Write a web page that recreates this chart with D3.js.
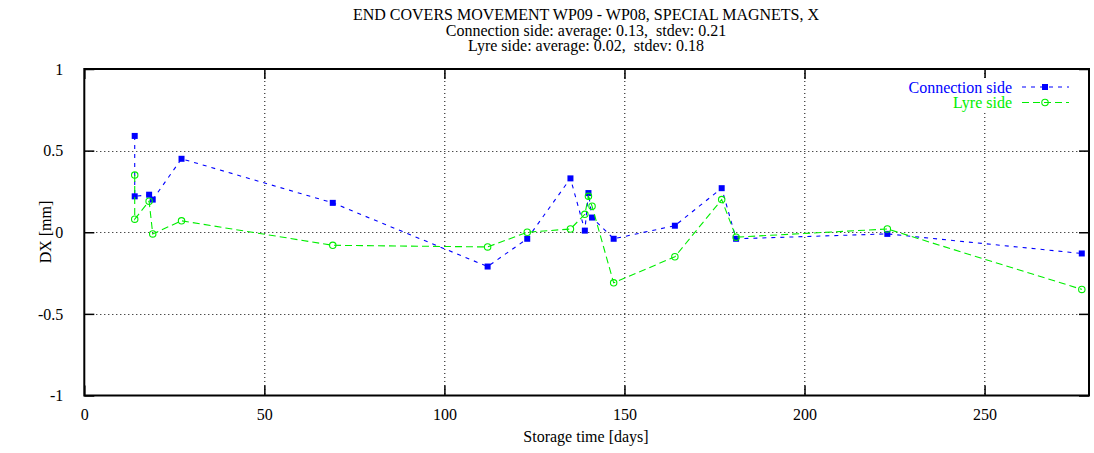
<!DOCTYPE html>
<html>
<head>
<meta charset="utf-8">
<script src="https://cdn.jsdelivr.net/npm/d3@7"></script>
<style>
  body { margin: 0; background: #fff; }
  svg text { font-family: "Liberation Serif", "DejaVu Serif", serif; font-size: 16px; fill: #000; white-space: pre; }
</style>
</head>
<body>
<div id="app"></div>
<script>
// storage time in days, shared by both series
const days = [14, 14, 18, 19, 27, 69, 112, 123, 135, 139, 140, 141, 147, 164, 177, 181, 223, 277];
const connectionDX = [0.59, 0.22, 0.23, 0.20, 0.45, 0.18, -0.21, -0.04, 0.33, 0.01, 0.24, 0.09, -0.04, 0.04, 0.27, -0.04, -0.01, -0.13];
const lyreDX = [0.35, 0.08, 0.19, -0.01, 0.07, -0.08, -0.09, 0.00, 0.02, 0.11, 0.22, 0.16, -0.31, -0.15, 0.20, -0.03, 0.02, -0.35];
const xTicks = [0, 50, 100, 150, 200, 250];
const yTicks = [-1, -0.5, 0, 0.5, 1];
const titleLines = [
  "END COVERS MOVEMENT WP09 - WP08, SPECIAL MAGNETS, X",
  "Connection side: average: 0.13,  stdev: 0.21",
  "Lyre side: average: 0.02,  stdev: 0.18"
];

const dims = { width: 1094, height: 453, margin: { top: 69, right: 5, bottom: 57.5, left: 84.3 } };
dims.bw = dims.width - dims.margin.left - dims.margin.right;
dims.bh = dims.height - dims.margin.top - dims.margin.bottom;

const svg = d3.select("#app").append("svg")
  .attr("width", dims.width).attr("height", dims.height);

const bounds = svg.append("g")
  .attr("transform", `translate(${dims.margin.left},${dims.margin.top})`);

const x = d3.scaleLinear().domain([0, 279]).range([0, dims.bw]);
const y = d3.scaleLinear().domain([-1, 1]).range([dims.bh, 0]);

// grid
const grid = bounds.append("g").attr("stroke", "#000").attr("stroke-width", 1).attr("stroke-dasharray", "1,3");
grid.selectAll(".gx").data(xTicks.filter(d => d > 0)).join("line")
  .attr("x1", d => Math.round(x(d)) + 0.5).attr("x2", d => Math.round(x(d)) + 0.5)
  .attr("y1", 0).attr("y2", dims.bh);
grid.selectAll(".gy").data(yTicks.filter(d => d > -1 && d < 1)).join("line")
  .attr("y1", d => Math.round(y(d)) + 0.5).attr("y2", d => Math.round(y(d)) + 0.5)
  .attr("x1", 0).attr("x2", dims.bw);

// plain hyphen for negatives, like gnuplot
const fmt = d => String(d);

// axes with inward ticks, mirrored on top/right
const tl = 10;
const xAxis = bounds.append("g").attr("transform", `translate(0,${dims.bh})`)
  .call(d3.axisBottom(x).tickValues(xTicks).tickSize(-tl).tickPadding(tl + 7).tickFormat(fmt));
const xAxisTop = bounds.append("g")
  .call(d3.axisTop(x).tickValues(xTicks).tickSize(-tl).tickFormat(""));
const yAxis = bounds.append("g")
  .call(d3.axisLeft(y).tickValues(yTicks).tickSize(-tl).tickPadding(tl + 11).tickFormat(fmt));
const yAxisRight = bounds.append("g").attr("transform", `translate(${dims.bw},0)`)
  .call(d3.axisRight(y).tickValues(yTicks).tickSize(-tl).tickFormat(""));

[xAxis, xAxisTop, yAxis, yAxisRight].forEach(g => {
  g.select(".domain").remove();
  g.selectAll(".tick line").attr("stroke", "#000").attr("stroke-width", 1.5);
  g.selectAll("text").attr("font-family", null).attr("font-size", null);
});
xAxis.selectAll(".tick text").attr("dy", "0.45em");

// series
const series = [
  { name: "Connection side", vals: connectionDX, color: "#0000ff", dash: "4,5", marker: "square" },
  { name: "Lyre side", vals: lyreDX, color: "#00ee00", dash: "7,4", marker: "circle" }
];

const line = d3.line().x(d => x(d[0])).y(d => y(d[1]));

function drawMarker(g, s, cx, cy) {
  if (s.marker === "square") {
    g.append("rect").attr("x", cx - 3).attr("y", cy - 3).attr("width", 6).attr("height", 6)
      .attr("fill", s.color);
  } else {
    g.append("circle").attr("cx", cx).attr("cy", cy).attr("r", 3.2)
      .attr("fill", "none").attr("stroke", s.color).attr("stroke-width", 1.1);
  }
}

series.forEach(s => {
  const pts = days.map((d, i) => [d, s.vals[i]]);
  bounds.append("path").datum(pts)
    .attr("d", line).attr("fill", "none")
    .attr("stroke", s.color).attr("stroke-width", 1.1).attr("stroke-dasharray", s.dash);
  const mg = bounds.append("g");
  pts.forEach(p => drawMarker(mg, s, x(p[0]), y(p[1])));
});

// legend (opaque key, hides the grid behind it)
const legend = svg.append("g");
legend.append("rect").attr("x", 904).attr("y", 78).attr("width", 172).attr("height", 34).attr("fill", "#fff");
series.forEach((s, i) => {
  const ly = 87 + i * 15.5;
  legend.append("text").attr("x", 1012).attr("y", ly).attr("dy", "0.35em")
    .attr("text-anchor", "end").style("fill", s.color).text(s.name);
  legend.append("line").attr("x1", 1022).attr("x2", 1069).attr("y1", ly).attr("y2", ly)
    .attr("stroke", s.color).attr("stroke-width", 1.1).attr("stroke-dasharray", s.dash);
  drawMarker(legend, s, 1045, ly);
});

// border
bounds.append("rect")
  .attr("width", dims.bw).attr("height", dims.bh)
  .attr("fill", "none").attr("stroke", "#000").attr("stroke-width", 2);

// title
svg.append("g").selectAll("text").data(titleLines).join("text")
  .attr("x", 586).attr("y", (d, i) => 14.5 + i * 15.5).attr("dy", "0.35em")
  .attr("text-anchor", "middle").text(d => d);

// axis labels
svg.append("text").attr("x", 586).attr("y", 436).attr("dy", "0.35em")
  .attr("text-anchor", "middle").text("Storage time [days]");
svg.append("text").attr("transform", "translate(45,232) rotate(-90)").attr("dy", "0.35em")
  .attr("text-anchor", "middle").text("DX [mm]");
</script>
</body>
</html>
